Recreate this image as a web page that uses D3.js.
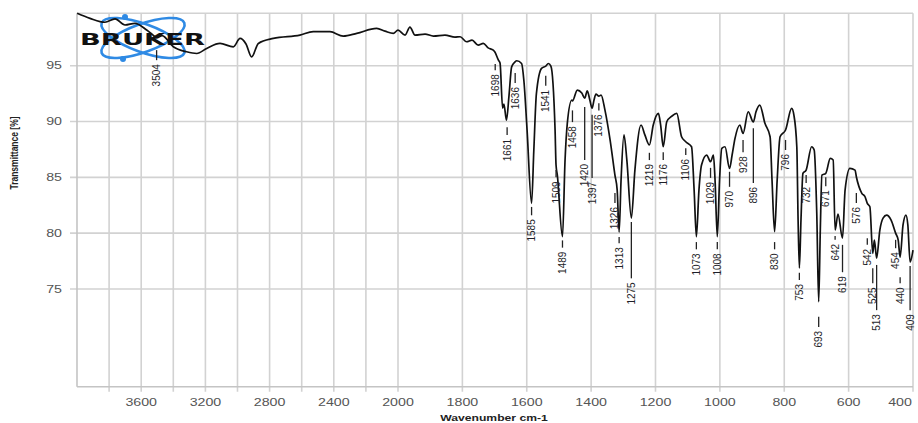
<!DOCTYPE html>
<html>
<head>
<meta charset="utf-8">
<script src="https://cdn.jsdelivr.net/npm/d3@7"></script>
<style>
  body { margin: 0; background: #fff; }
  svg { display: block; font-family: "Liberation Sans", Arial, sans-serif; }
</style>
</head>
<body>
<svg id="chart" width="918" height="423"></svg>
<script>
// spectrum (wavenumber cm-1 / transmittance %)
const wavenumbers = [3999, 3919, 3826, 3763, 3701, 3639, 3566, 3526, 3504, 3470, 3400, 3317, 3254, 3192, 3109, 3026, 2984, 2947, 2912, 2870,
  2777, 2611, 2528, 2424, 2341, 2257, 2133, 2081, 2029, 2000, 1978, 1963, 1947, 1916, 1890, 1854, 1823, 1807, 1787, 1770,
  1751, 1735, 1720, 1704, 1699, 1688, 1683, 1675, 1671, 1663, 1655, 1647, 1637, 1631, 1616, 1609, 1599, 1585, 1578, 1570,
  1554, 1541, 1533, 1525, 1512, 1509, 1505, 1489, 1481, 1474, 1460, 1458, 1443, 1429, 1420, 1412, 1404, 1397, 1391, 1385,
  1376, 1369, 1357, 1341, 1326, 1319, 1313, 1307, 1298, 1289, 1275, 1264, 1245, 1233, 1219, 1207, 1191, 1184, 1176, 1165,
  1149, 1134, 1119, 1106, 1088, 1080, 1073, 1065, 1057, 1041, 1029, 1020, 1015, 1008, 1001, 994, 984, 970, 962, 953,
  938, 928, 912, 896, 888, 876, 860, 844, 838, 830, 822, 813, 796, 777, 770, 761, 757, 753, 748, 742,
  732, 715, 707, 699, 693, 688, 683, 671, 657, 648, 642, 633, 619, 611, 596, 580, 576, 559, 549, 542,
  534, 525, 520, 513, 503, 493, 482, 468, 454, 446, 440, 431, 422, 416, 409, 400];
const transmittance = [99.7, 99.25, 98.9, 99.2, 98.65, 98.8, 98.2, 97.75, 97.5, 97.7, 96.7, 96.25, 96.1, 96.55, 97.0, 96.7, 97.45, 96.95, 95.8, 97.0,
  97.45, 97.75, 98.05, 98.05, 97.65, 97.9, 98.35, 98.1, 97.9, 98.2, 97.75, 98.47, 97.75, 97.84, 97.66, 97.75, 97.57, 97.6, 97.15, 97.3,
  96.85, 97.0, 96.6, 96.4, 96.23, 95.5, 95.24, 91.2, 91.57, 90.13, 92.37, 94.9, 95.33, 95.45, 95.2, 93.7, 89.24, 82.67, 87.45, 92.5,
  94.77, 94.97, 95.2, 94.97, 89.24, 86.1, 85.2, 79.68, 86.55, 89.84, 91.93, 91.84, 92.82, 92.55, 92.1, 92.76, 91.93, 91.2, 91.93, 92.46,
  92.28, 92.37, 91.03, 88.34, 85.2, 83.86, 80.1, 84.76, 88.8, 86.55, 81.35, 85.65, 89.69, 88.8, 87.9, 89.69, 90.73, 89.69, 87.74, 89.98,
  90.49, 90.73, 88.64, 88.19, 87.74, 83.86, 79.68, 83.86, 86.1, 87.0, 86.4, 87.0, 84.76, 79.68, 84.76, 87.6, 87.74, 85.8, 87.0, 88.49,
  89.69, 88.94, 90.88, 89.96, 90.85, 91.48, 89.84, 88.64, 84.76, 80.13, 84.76, 88.64, 89.24, 91.18, 90.58, 87.74, 81.2, 76.87, 81.2, 85.36,
  85.65, 87.74, 87.45, 81.8, 73.85, 80.28, 85.2, 85.36, 86.7, 86.55, 80.28, 81.71, 79.56, 83.86, 85.8, 85.65, 85.05, 83.57, 83.26, 82.67,
  82.37, 78.19, 79.38, 77.77, 80.28, 81.35, 81.62, 81.17, 80.0, 79.38, 77.86, 80.73, 81.62, 80.73, 77.41, 78.48];

// picked peaks and their label leaders (top / bottom of leader in % T)
const peakWn = [3504, 1698, 1661, 1636, 1585, 1541, 1509, 1489, 1458, 1420, 1397, 1376, 1326, 1313, 1275, 1219, 1176, 1106, 1073, 1029,
  1008, 970, 928, 896, 830, 796, 753, 732, 693, 671, 642, 619, 576, 542, 525, 513, 454, 440, 409];
const leaderTop = [96.4, 95.15, 89.5, 94.35, 82.35, 94.1, 85.65, 79.35, 91.0, 91.3, 90.6, 91.65, 83.6, 79.65, 81.0, 87.2, 87.25, 87.6, 79.2, 85.85,
  79.2, 85.5, 88.35, 89.4, 79.2, 88.35, 76.45, 85.2, 72.5, 85.0, 79.75, 78.95, 83.6, 79.55, 76.85, 77.15, 79.4, 76.05, 77.05];
const leaderEnd = [95.5, 94.6, 88.8, 93.45, 81.6, 93.2, 85.0, 78.7, 89.95, 86.55, 84.95, 91.0, 82.7, 79.1, 75.95, 86.55, 86.55, 87.0, 78.55, 84.95,
  78.55, 84.15, 87.25, 84.5, 78.55, 87.45, 75.8, 84.5, 71.6, 84.2, 79.4, 76.5, 82.7, 78.95, 75.5, 73.1, 78.65, 75.5, 73.1];

const xGrid = [3800, 3600, 3400, 3200, 3000, 2800, 2600, 2400, 2200, 2000, 1800, 1600, 1400, 1200, 1000, 800, 600, 400];
const xTickLabels = [3600, 3200, 2800, 2400, 2000, 1800, 1600, 1400, 1200, 1000, 800, 600, 400];
const yTickLabels = [95, 90, 85, 80, 75];

const svg = d3.select('#chart');
const plotLeft = 77, plotRight = 913, plotTop = 13.3, plotBottom = 386.7;

// OPUS style axis: compressed above 2000 cm-1
const x = d3.scaleLinear().domain([4000, 2000, 400]).range([plotLeft, 398, plotRight]);
const y = d3.scaleLinear().domain([66.24, 99.7]).range([plotBottom, plotTop]);

const gridColor = '#d2d2d2';
const sx = 1.42; // the picture is stretched sideways

function addText(g, px, py, str, opt) {
  return g.append('text')
    .attr('transform', `translate(${px},${py}) scale(${opt.sx || 1},1)`)
    .attr('text-anchor', opt.anchor || 'middle')
    .attr('font-size', opt.size || 10)
    .attr('font-weight', opt.weight || 'normal')
    .attr('fill', opt.fill || '#555')
    .text(str);
}

// grid
const grid = svg.append('g');
grid.selectAll('line.gx').data(xGrid).enter().append('line')
  .attr('x1', d => x(d)).attr('x2', d => x(d))
  .attr('y1', plotTop).attr('y2', plotBottom + 5)
  .attr('stroke', gridColor).attr('stroke-width', 1.6);
grid.selectAll('line.gy').data(yTickLabels).enter().append('line')
  .attr('x1', plotLeft - 7).attr('x2', plotRight)
  .attr('y1', d => y(d)).attr('y2', d => y(d))
  .attr('stroke', gridColor).attr('stroke-width', 1.6);
grid.append('line').attr('x1', plotLeft).attr('x2', plotRight).attr('y1', plotTop).attr('y2', plotTop)
  .attr('stroke', gridColor).attr('stroke-width', 1.6);
grid.append('line').attr('x1', plotLeft).attr('x2', plotLeft).attr('y1', plotTop).attr('y2', plotBottom)
  .attr('stroke', '#c4c4c4').attr('stroke-width', 1.6);
grid.append('line').attr('x1', plotLeft).attr('x2', plotRight).attr('y1', plotBottom).attr('y2', plotBottom)
  .attr('stroke', '#c4c4c4').attr('stroke-width', 1.6);

// tick labels (the last one is pulled in so it stays on the page)
const labels = svg.append('g');
xTickLabels.forEach(v => addText(labels, Math.min(x(v), 900), 406, v, { sx: sx }));
yTickLabels.forEach(v => addText(labels, 62, y(v) + 3.6, v, { sx: sx, anchor: 'end' }));

addText(labels, 494, 421, 'Wavenumber cm-1', { sx: 1.35, size: 9, weight: 'bold', fill: '#222' });
labels.append('text')
  .attr('transform', 'translate(18,153) rotate(-90) scale(1,1.25)')
  .attr('text-anchor', 'middle')
  .attr('font-size', 8.5).attr('font-weight', 'bold').attr('fill', '#222')
  .text('Transmittance [%]');

// logo
const logo = svg.append('g');
[20, -20].forEach(a => {
  logo.append('ellipse')
    .attr('transform', `translate(143,38) rotate(${a})`)
    .attr('rx', 44).attr('ry', 14)
    .attr('fill', 'none').attr('stroke', '#2f8ae4').attr('stroke-width', 2.6);
});
[[123, 59], [125, 17]].forEach(p => {
  logo.append('circle').attr('cx', p[0]).attr('cy', p[1]).attr('r', 3).attr('fill', '#2f8ae4');
});
logo.append('text')
  .attr('x', 80).attr('y', 45)
  .attr('textLength', 125).attr('lengthAdjust', 'spacingAndGlyphs')
  .attr('font-family', '"DejaVu Sans", sans-serif')
  .attr('font-size', 16.5).attr('font-weight', 'bold').attr('fill', '#111')
  .text('BRUKER');

// spectrum
const spectrum = wavenumbers.map((w, i) => [w, transmittance[i]]);
const line = d3.line()
  .x(d => x(d[0]))
  .y(d => y(d[1]))
  .curve(d3.curveMonotoneX);

svg.append('path')
  .datum(spectrum)
  .attr('d', line)
  .attr('fill', 'none')
  .attr('stroke', '#111')
  .attr('stroke-width', 1.7)
  .attr('stroke-linejoin', 'round');

// peak labels
const peaks = svg.append('g');
peakWn.forEach((w, i) => {
  const px = x(w);
  peaks.append('line')
    .attr('x1', px).attr('x2', px)
    .attr('y1', y(leaderTop[i])).attr('y2', y(leaderEnd[i]))
    .attr('stroke', '#222').attr('stroke-width', 1.3);
  peaks.append('text')
    .attr('transform', `translate(${px},${y(leaderEnd[i]) + 4}) rotate(-90)`)
    .attr('text-anchor', 'end')
    .attr('dy', '0.35em')
    .attr('font-size', 10)
    .attr('fill', '#1e1e28')
    .text(w);
});
</script>
</body>
</html>
